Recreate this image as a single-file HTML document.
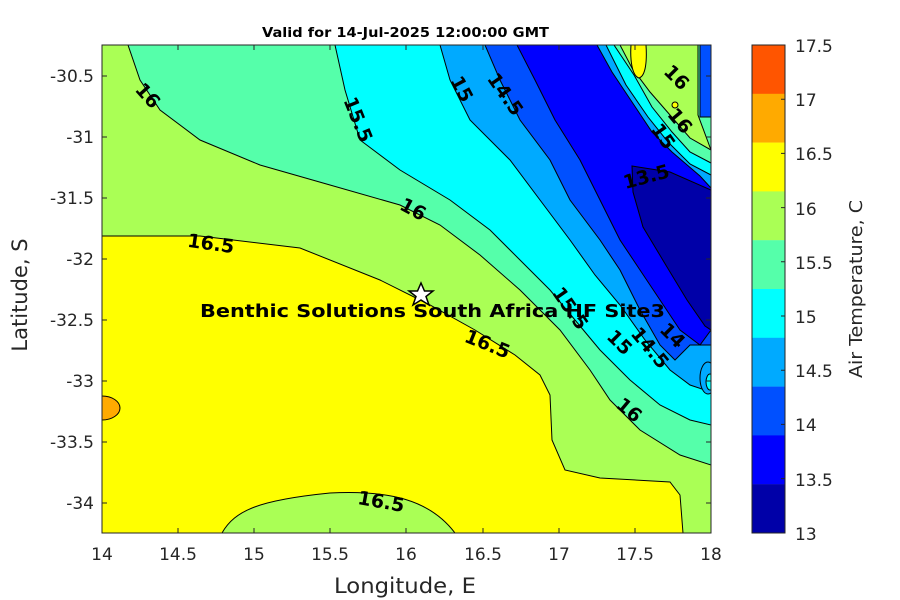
<!DOCTYPE html>
<html><head><meta charset="utf-8"><style>body{margin:0;background:#fff}svg{display:block;font-family:"DejaVu Sans","Liberation Sans",sans-serif}</style></head><body>
<svg width="900" height="600" viewBox="0 0 900 600" xmlns="http://www.w3.org/2000/svg">
<defs><clipPath id="c"><rect x="102" y="45" width="609" height="488"/></clipPath></defs>
<g clip-path="url(#c)" stroke="#000" stroke-width="1">
<rect x="102" y="45" width="609" height="488" fill="#FFFF00" stroke="none"/>
<ellipse cx="102" cy="408" rx="18" ry="12" fill="#FFAA00"/>
<path d="M222,533 C235,510 260,500 330,493 C390,490 430,500 455,533 Z" fill="#AAFF55"/>
<path d="M102,45 L711,45 L711,533 L683,533 L680,495 L670,482 L600,478 L565,470 L552,440 L550,395 L540,375 L515,355 L475,330 L430,305 L380,280 L300,248 L200,236 L102,236 Z" fill="#AAFF55"/>
<path d="M128,45 L711,45 L711,465 L680,455 L640,430 L610,400 L590,370 L560,330 L520,290 L480,255 L440,225 L400,205 L330,185 L260,165 L200,140 L160,110 L140,80 Z" fill="#55FFAA"/>
<path d="M335,45 L711,45 L711,425 L690,420 L660,405 L630,380 L600,350 L575,320 L550,290 L520,260 L490,230 L450,200 L400,170 L360,140 L345,90 Z" fill="#00FFFF"/>
<path d="M440,45 L711,45 L711,392 L690,385 L670,370 L645,340 L620,305 L595,275 L570,240 L540,200 L510,160 L470,120 L450,80 Z" fill="#00AAFF"/>
<path d="M485,45 L711,45 L711,345 L690,345 L675,360 L660,345 L640,310 L620,270 L600,240 L570,200 L550,160 L520,120 L500,80 Z" fill="#0050FF"/>
<path d="M517,45 L711,45 L711,330 L700,345 L680,330 L660,300 L640,270 L620,240 L600,200 L580,160 L555,120 L535,80 Z" fill="#0000FF"/>
<path d="M632,166 L670,172 L711,190 L711,330 L705,326 L687,300 L667,267 L643,227 L633,192 Z" fill="#0000A8"/>
<path d="M597,45 L711,45 L711,188 L700,176 L672,152 L652,132 L632,102 L612,72 Z" fill="#00AAFF"/>
<path d="M606,45 L711,45 L711,175 L690,164 L668,142 L648,117 L626,85 Z" fill="#00FFFF"/>
<path d="M614,45 L711,45 L711,163 L690,152 L672,132 L652,107 L634,75 Z" fill="#55FFAA"/>
<path d="M620,45 L698,45 L698,115 L711,150 L690,138 L670,115 L650,92 L632,68 Z" fill="#AAFF55"/>
<rect x="700" y="45" width="11" height="72" fill="#0050FF"/>
<path d="M631,45 L646,45 C647,60 646,76 639,78 C632,76 630,60 631,45 Z" fill="#FFFF00"/>
<circle cx="675" cy="105" r="3" fill="#FFFF00"/>
<ellipse cx="708" cy="378" rx="8" ry="16" fill="#00AAFF"/>
<ellipse cx="710" cy="382" rx="4" ry="8" fill="#00FFFF"/>
</g>
<rect x="102" y="45" width="609" height="488" fill="none" stroke="#262626" stroke-width="1"/>
<g font-weight="bold" font-size="19" fill="#000" text-anchor="middle">
<text transform="translate(143,100) rotate(48)">16</text>
<text transform="translate(352,122) rotate(68)">15.5</text>
<text transform="translate(456,92) rotate(62)">15</text>
<text transform="translate(500,98) rotate(55)">14.5</text>
<text transform="translate(410,215) rotate(28)">16</text>
<text transform="translate(210,250) rotate(8)">16.5</text>
<text transform="translate(485,350) rotate(22)">16.5</text>
<text transform="translate(565,312) rotate(55)">15.5</text>
<text transform="translate(615,347) rotate(45)">15</text>
<text transform="translate(645,352) rotate(50)">14.5</text>
<text transform="translate(668,340) rotate(45)">14</text>
<text transform="translate(625,415) rotate(40)">16</text>
<text transform="translate(380,508) rotate(10)">16.5</text>
<text transform="translate(648,183) rotate(-15)">13.5</text>
<text transform="translate(672,82) rotate(45)">16</text>
<text transform="translate(675,125) rotate(50)">16</text>
<text transform="translate(658,140) rotate(55)">15</text>
</g>
<polygon points="421,283 424.5,291 433,291 426,296.5 429,305 421,300 413,305 416,296.5 409,291 417.5,291" fill="#fff" stroke="#000" stroke-width="1.5"/>
<text x="200" y="317" font-weight="bold" font-size="18" fill="#000" textLength="465" lengthAdjust="spacingAndGlyphs">Benthic Solutions South Africa HF Site3</text>
<text x="262" y="37" font-weight="bold" font-size="13.5" fill="#000" textLength="287" lengthAdjust="spacingAndGlyphs">Valid for 14-Jul-2025 12:00:00 GMT</text>
<g font-size="17" fill="#262626" text-anchor="middle">
<text x="102" y="560">14</text><text x="178" y="560">14.5</text><text x="254" y="560">15</text><text x="330" y="560">15.5</text><text x="406" y="560">16</text><text x="483" y="560">16.5</text><text x="559" y="560">17</text><text x="635" y="560">17.5</text><text x="711" y="560">18</text>
</g>
<text x="405" y="593" font-size="21" fill="#262626" text-anchor="middle" textLength="142" lengthAdjust="spacingAndGlyphs">Longitude, E</text>
<g font-size="17" fill="#262626" text-anchor="end">
<text x="94" y="82">-30.5</text><text x="94" y="143">-31</text><text x="94" y="204">-31.5</text><text x="94" y="265">-32</text><text x="94" y="326">-32.5</text><text x="94" y="387">-33</text><text x="94" y="448">-33.5</text><text x="94" y="509">-34</text>
</g>
<text transform="translate(27,295) rotate(-90)" font-size="21" fill="#262626" text-anchor="middle">Latitude, S</text>
<g stroke="#262626">
<path d="M178,533v-5M254,533v-5M330,533v-5M406,533v-5M483,533v-5M559,533v-5M635,533v-5M178,45v5M254,45v5M330,45v5M406,45v5M483,45v5M559,45v5M635,45v5M102,76h5M102,137h5M102,198h5M102,259h5M102,320h5M102,381h5M102,442h5M102,503h5M711,76h-5M711,137h-5M711,198h-5M711,259h-5M711,320h-5M711,381h-5M711,442h-5M711,503h-5"/>
</g>
<g stroke="none">
<rect x="752" y="45" width="33" height="49" fill="#FF5500"/>
<rect x="752" y="93.8" width="33" height="49" fill="#FFAA00"/>
<rect x="752" y="142.6" width="33" height="49" fill="#FFFF00"/>
<rect x="752" y="191.4" width="33" height="49" fill="#AAFF55"/>
<rect x="752" y="240.2" width="33" height="49" fill="#55FFAA"/>
<rect x="752" y="289" width="33" height="49" fill="#00FFFF"/>
<rect x="752" y="337.8" width="33" height="49" fill="#00AAFF"/>
<rect x="752" y="386.6" width="33" height="49" fill="#0050FF"/>
<rect x="752" y="435.4" width="33" height="49" fill="#0000FF"/>
<rect x="752" y="484.2" width="33" height="48.8" fill="#0000A8"/>
</g>
<rect x="752" y="45" width="33" height="488" fill="none" stroke="#262626"/>
<g stroke="#262626"><path d="M785,99.2h-4M785,153.4h-4M785,207.6h-4M785,261.8h-4M785,316h-4M785,370.2h-4M785,424.4h-4M785,478.6h-4"/></g>
<g font-size="17" fill="#262626">
<text x="795" y="52">17.5</text><text x="795" y="106">17</text><text x="795" y="160">16.5</text><text x="795" y="215">16</text><text x="795" y="269">15.5</text><text x="795" y="323">15</text><text x="795" y="377">14.5</text><text x="795" y="431">14</text><text x="795" y="486">13.5</text><text x="795" y="540">13</text>
</g>
<text transform="translate(862,289) rotate(-90)" font-size="18" fill="#262626" text-anchor="middle" textLength="178" lengthAdjust="spacingAndGlyphs">Air Temperature, C</text>
</svg>
</body></html>
